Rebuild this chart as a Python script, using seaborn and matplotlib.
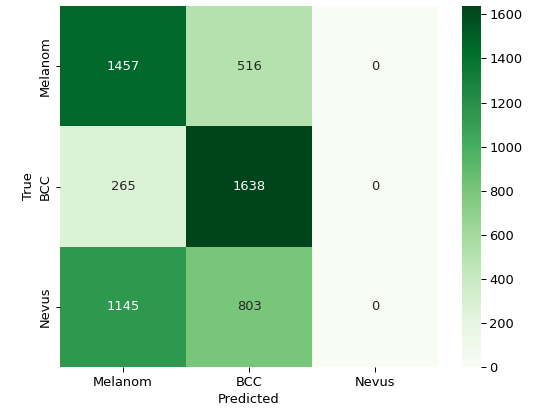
import numpy as np
import pandas as pd
import matplotlib
matplotlib.use("Agg")
import matplotlib.pyplot as plt
import seaborn as sns

classes = ["Melanom", "BCC", "Nevus"]
row_melanom = [1457, 516, 0]
row_bcc = [265, 1638, 0]
row_nevus = [1145, 803, 0]

cm = pd.DataFrame([row_melanom, row_bcc, row_nevus], index=classes, columns=classes)

FS = 13
plt.rcParams["font.family"] = ["DejaVu Sans"]
plt.rcParams["font.size"] = FS

fig = plt.figure(figsize=(534 / 72, 414 / 72), dpi=72)
ax = fig.add_axes([0.1124, 0.1135, 0.7079, 0.872])
cax = fig.add_axes([0.865, 0.1135, 0.0356, 0.872])

sns.heatmap(cm, annot=True, fmt="d", cmap="Greens", ax=ax, cbar_ax=cax,
            annot_kws={"fontsize": FS})
ax.set_xlabel("Predicted", fontsize=FS, labelpad=4)
ax.set_ylabel("True", fontsize=FS, labelpad=4)
ax.tick_params(labelsize=FS, length=4.5, width=1, pad=4)
cax.tick_params(labelsize=FS, length=4.5, width=1, pad=4)

fig.savefig("out.png", dpi=72)
